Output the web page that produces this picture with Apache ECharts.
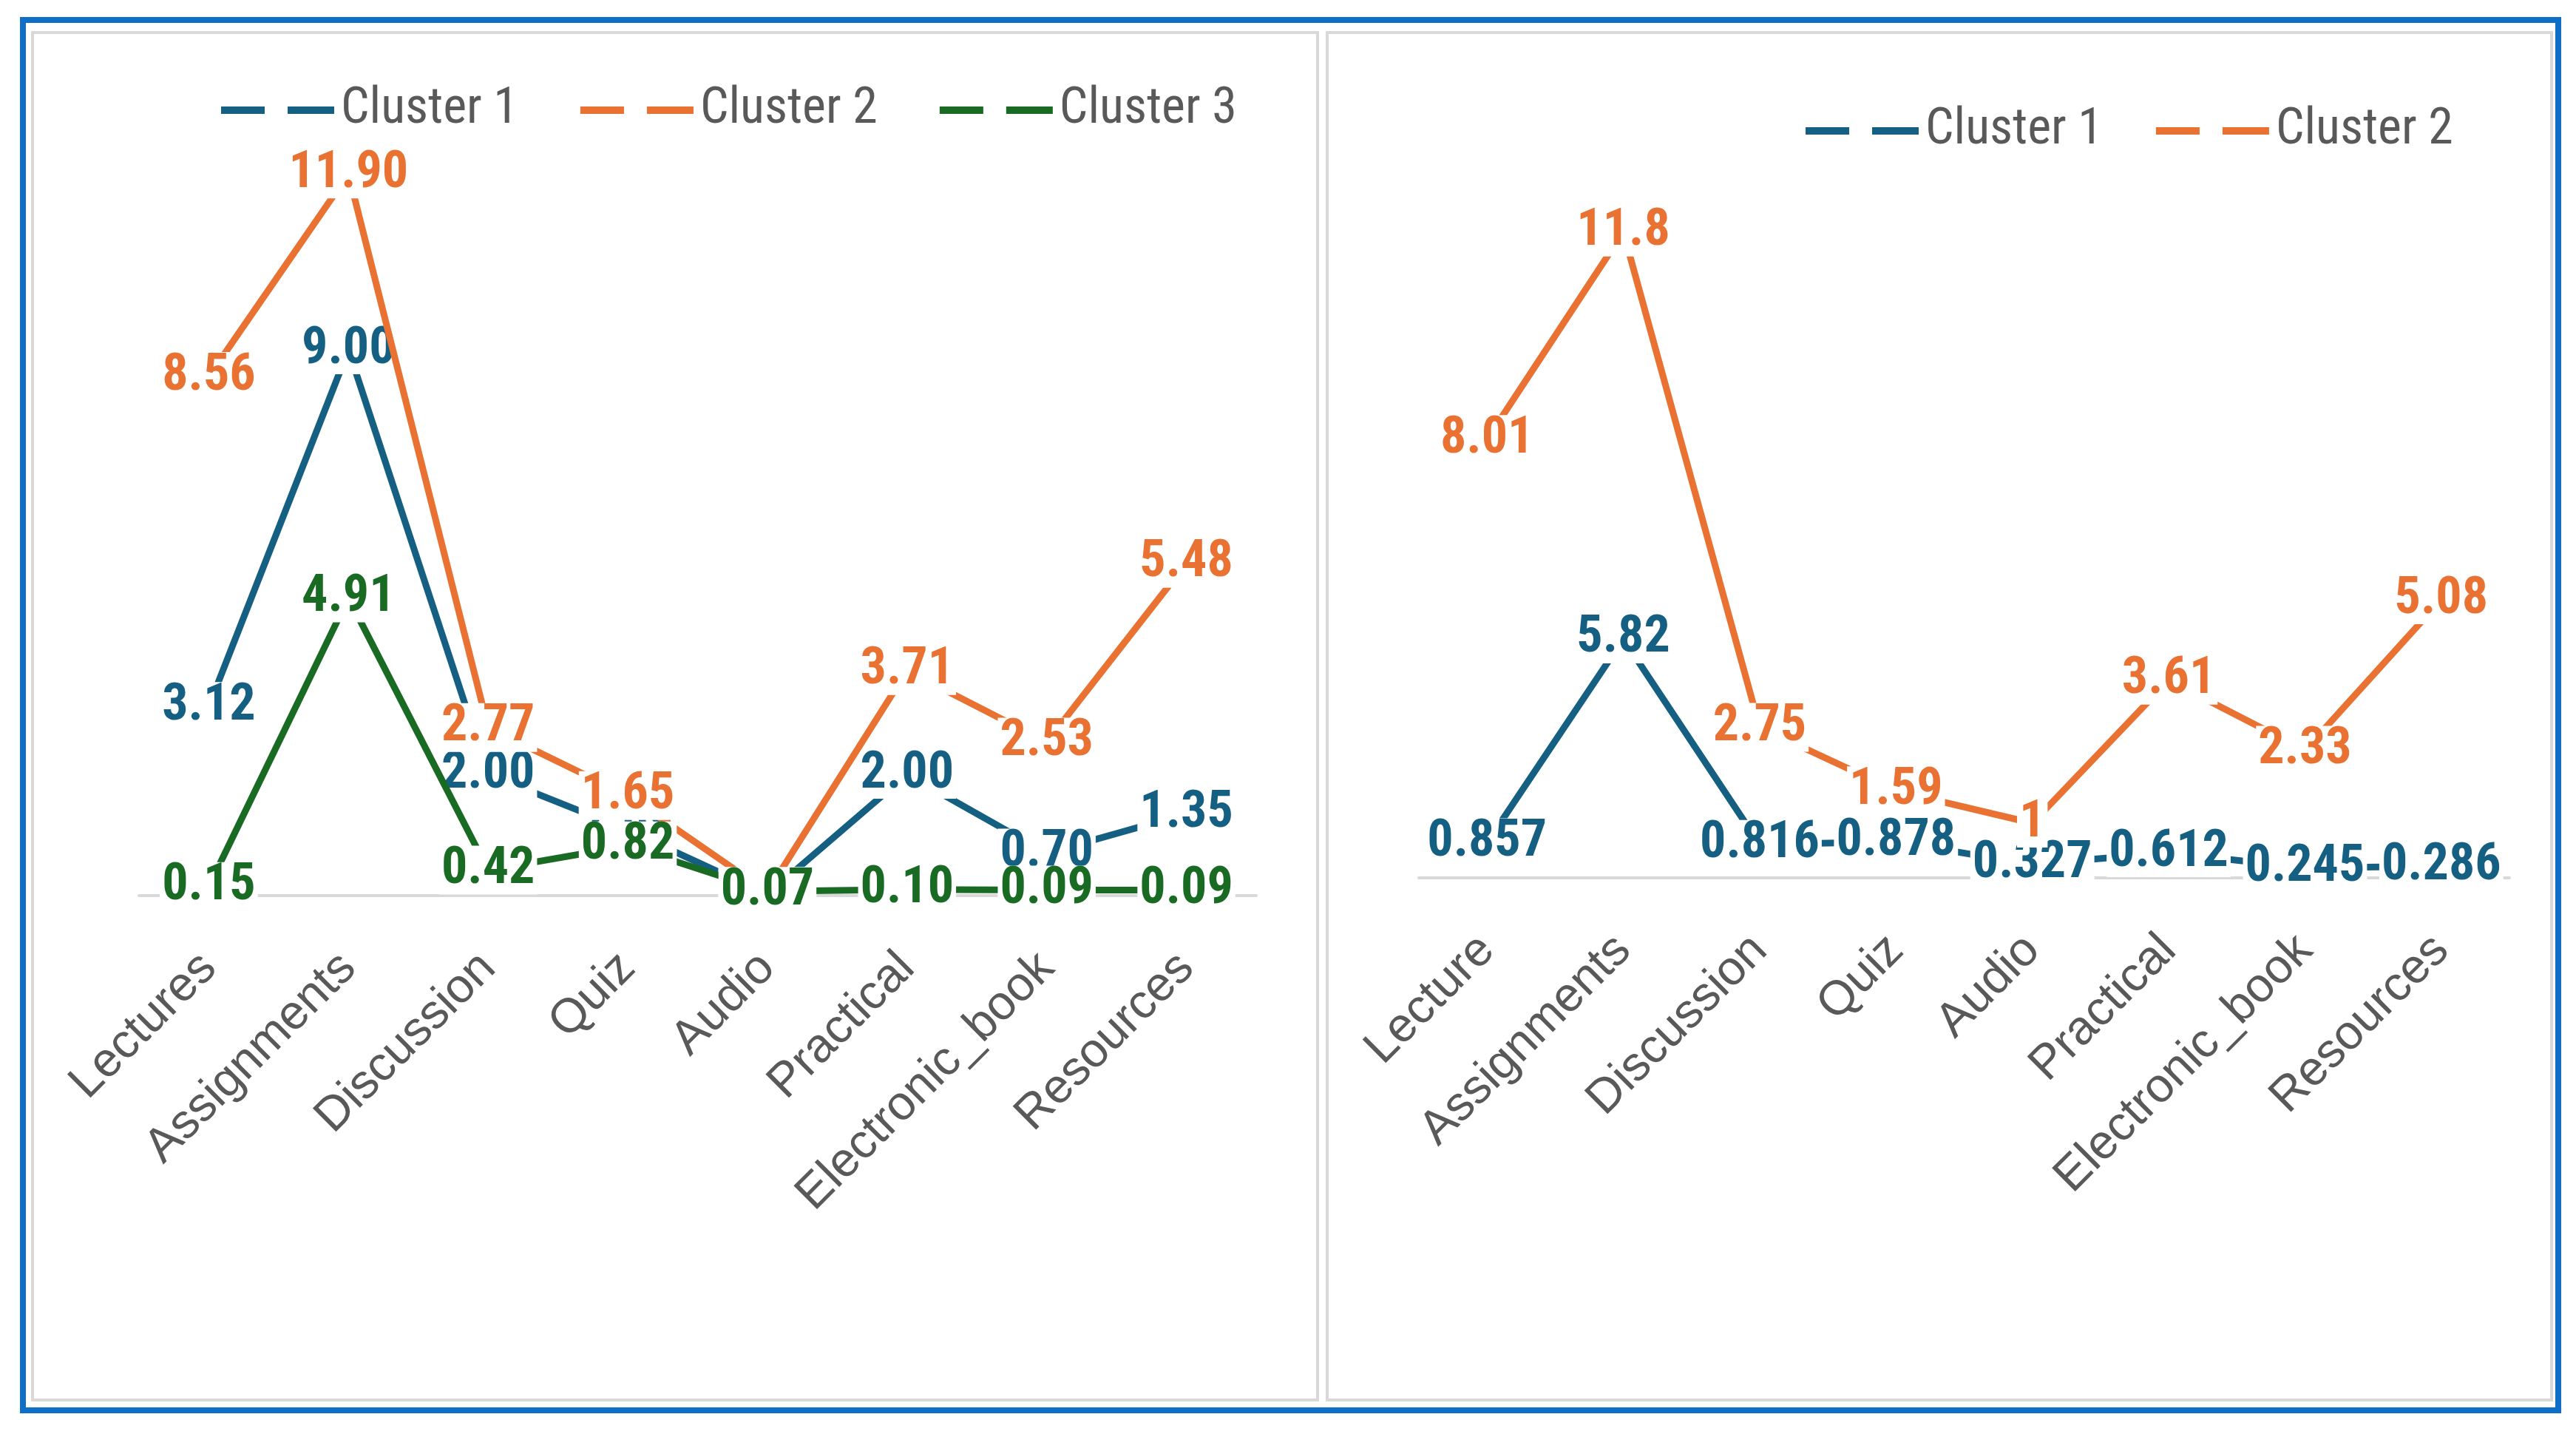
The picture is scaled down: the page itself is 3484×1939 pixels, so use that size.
<!DOCTYPE html>
<html>
<head>
<meta charset="utf-8">
<script src="https://cdn.jsdelivr.net/npm/echarts@6/dist/echarts.min.js"></script>
<style>
html,body{margin:0;padding:0;background:#fff;}
#c{width:3484px;height:1939px;}
</style>
</head>
<body>
<div id="c"></div>
<script>
// ---- data ----
const leftCategories = ['Lectures','Assignments','Discussion','Quiz','Audio','Practical','Electronic_book','Resources'];
const rightCategories = ['Lecture','Assignments','Discussion','Quiz','Audio','Practical','Electronic_book','Resources'];
const leftCluster1 = [3.12, 9.00, 2.00, 1.08, 0.02, 2.00, 0.70, 1.35];
const leftCluster2 = [8.56, 11.90, 2.77, 1.65, 0.06, 3.71, 2.53, 5.48];
const leftCluster3 = [0.15, 4.91, 0.42, 0.82, 0.07, 0.10, 0.09, 0.09];
const rightCluster1 = [0.857, 5.82, 0.816, 0.878, 0.327, 0.612, 0.245, 0.286];
const rightCluster2 = [8.01, 11.8, 2.75, 1.59, 1, 3.61, 2.33, 5.08];
const seriesNames = ['Cluster 1','Cluster 2','Cluster 3'];

const C1 = '#156082', C2 = '#E97132', C3 = '#196B24';
const NARROW = "'Liberation Sans Narrow','Roboto Condensed','Liberation Sans',sans-serif";
const REG = "'Liberation Sans',Arial,sans-serif";

const chart = echarts.init(document.getElementById('c'), null, {renderer:'canvas'});

function lbl(color, fmt){
  return {
    show:true, position:'inside', color:color, fontFamily:NARROW, fontWeight:'bold',
    fontSize:70, lineHeight:58, backgroundColor:'#ffffff', padding:[4,3], formatter:fmt
  };
}
const fmtL = p => p.value.toFixed(2);
const fmtR = p => String(Number(p.value.toPrecision(3)));

function ser(name, color, data, xi, yi, fmt, z){
  return {
    name:name, type:'line', xAxisIndex:xi, yAxisIndex:yi, data:data, color:color,
    z:z, symbol:'circle', symbolSize:4, showSymbol:true,
    lineStyle:{width:9, color:color}, itemStyle:{color:color},
    label:lbl(color, fmt), emphasis:{disabled:true}
  };
}

const iconPath = 'path://M0,0H59V10H0Z M90,0H153V10H90Z';
const legendBase = {
  orient:'horizontal', icon:iconPath, itemWidth:153, itemHeight:10, itemGap:84,
  selectedMode:false,
  textStyle:{fontSize:68, color:'#595959', fontFamily:NARROW, padding:[0,0,0,4]}
};

function xAx(gi, cats){
  return {
    gridIndex:gi, type:'category', data:cats, boundaryGap:true,
    axisTick:{show:false},
    axisLine:{show:true, lineStyle:{color:'#D9D9D9', width:4}},
    splitLine:{show:false},
    axisLabel:{interval:0, rotate:45, margin:88, fontSize:65, color:'#595959', fontFamily:REG}
  };
}

const option = {
  animation:false,
  backgroundColor:'#ffffff',
  graphic:[
    {type:'rect', shape:{x:31,y:27,width:3429,height:1880}, style:{fill:'none', stroke:'#0F6FC6', lineWidth:8}, silent:true},
    {type:'rect', shape:{x:44,y:44,width:1738,height:1849}, style:{fill:'none', stroke:'#D9D9D9', lineWidth:4}, silent:true},
    {type:'rect', shape:{x:1795,y:44,width:1656,height:1849}, style:{fill:'none', stroke:'#D9D9D9', lineWidth:4}, silent:true}
  ],
  legend:[
    Object.assign({}, legendBase, {left:294, top:110, data:seriesNames.slice(0,3)}),
    Object.assign({}, legendBase, {left:2437, top:138, itemGap:72, data:seriesNames.slice(0,2)})
  ],
  grid:[
    {left:188, top:63, width:1511, height:1148},
    {left:1919, top:77, width:1475, height:1110}
  ],
  xAxis:[xAx(0, leftCategories), xAx(1, rightCategories)],
  yAxis:[
    {gridIndex:0, type:'value', min:0, max:14, show:false},
    {gridIndex:1, type:'value', min:0, max:20, show:false},
    {gridIndex:1, type:'value', min:0, max:15, show:false}
  ],
  series:[
    ser(seriesNames[0], C1, leftCluster1, 0, 0, fmtL, 2),
    ser(seriesNames[1], C2, leftCluster2, 0, 0, fmtL, 3),
    ser(seriesNames[2], C3, leftCluster3, 0, 0, fmtL, 4),
    ser(seriesNames[0], C1, rightCluster1, 1, 1, fmtR, 2),
    ser(seriesNames[1], C2, rightCluster2, 1, 2, fmtR, 3)
  ]
};
chart.setOption(option);
</script>
</body>
</html>
